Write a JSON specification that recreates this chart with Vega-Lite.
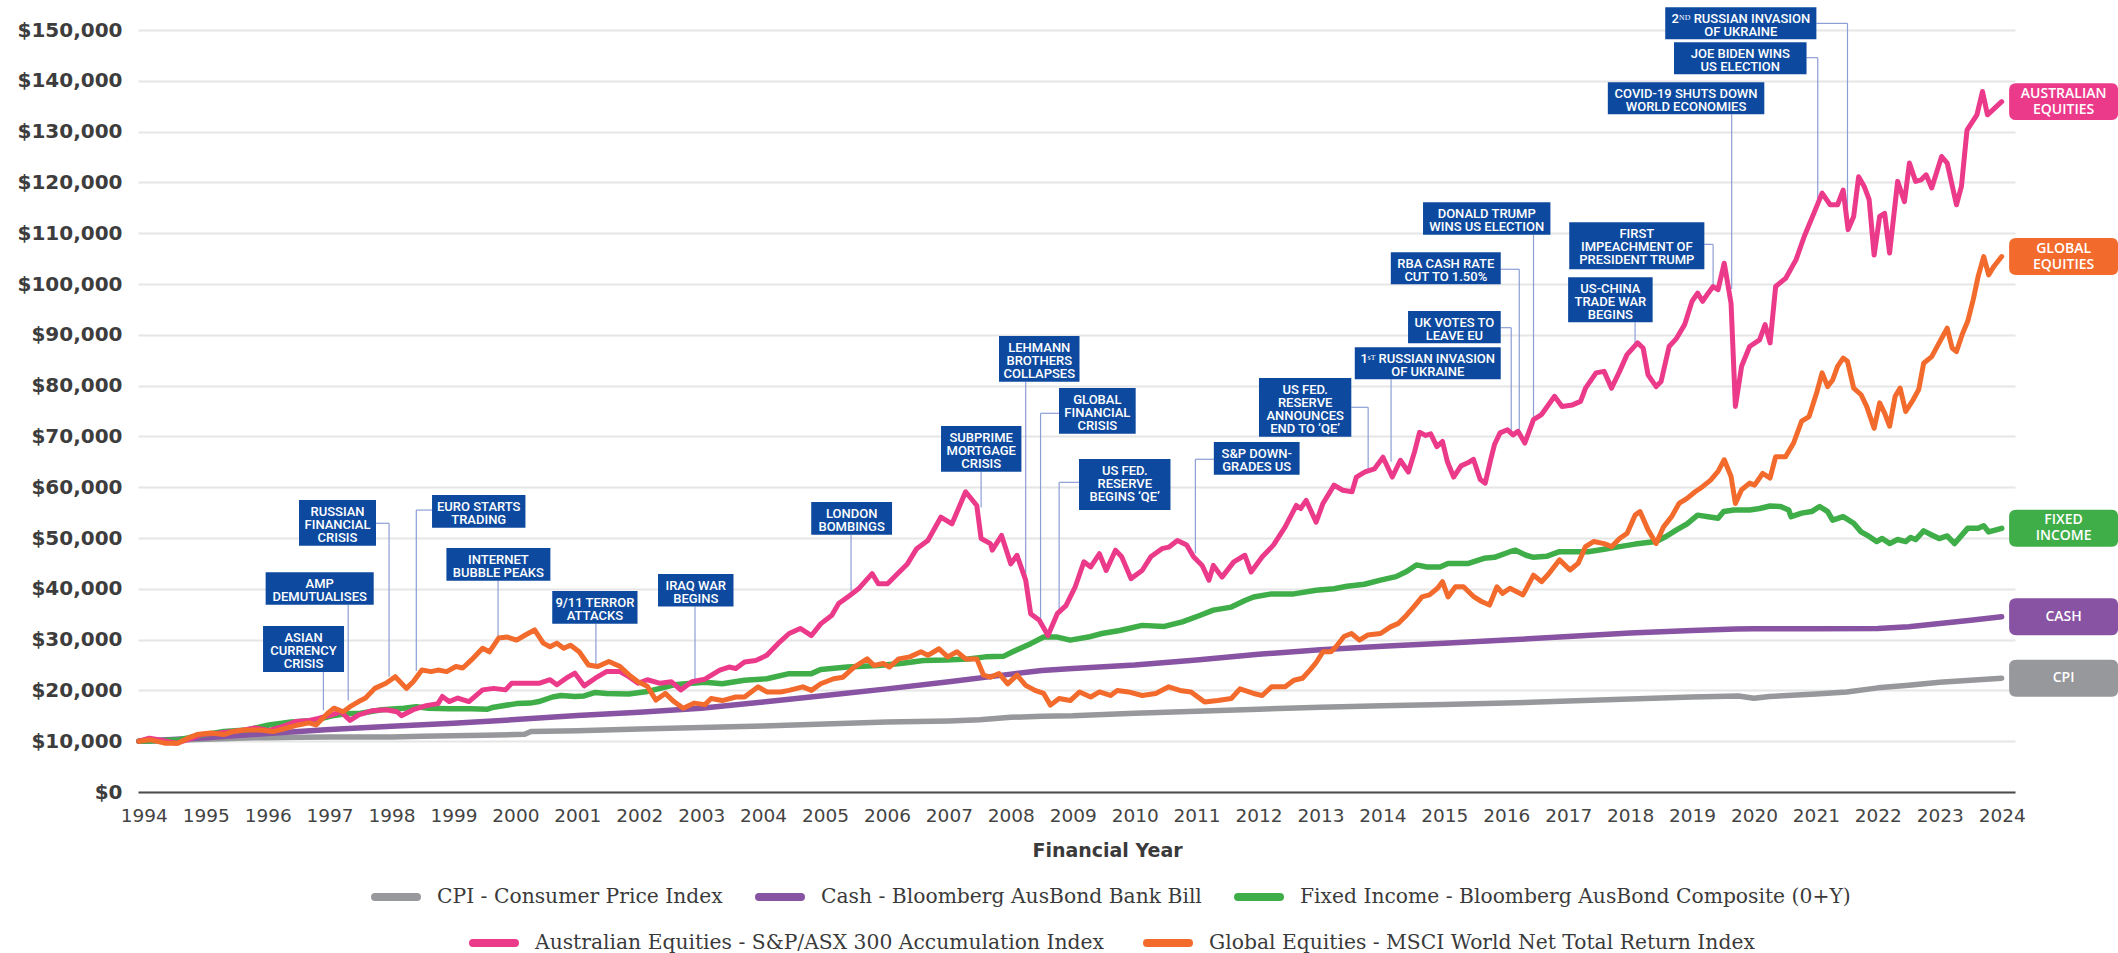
{
"$schema": "https://vega.github.io/schema/vega-lite/v6.json",
"width": 1877, "height": 762,
"autosize": {"type": "none"},
"padding": {"left": 138, "top": 30, "right": 103, "bottom": 161},
"background": "white",
"config": {"view": {"stroke": null}},
"datasets": {
"series": [
{"k":"cpi","t":1993.92,"v":10000},{"k":"cpi","t":1994.5,"v":10200},{"k":"cpi","t":1995.0,"v":10400},{"k":"cpi","t":1995.5,"v":10600},{"k":"cpi","t":1996.0,"v":10700},{"k":"cpi","t":1996.5,"v":10800},{"k":"cpi","t":1997.0,"v":10850},{"k":"cpi","t":1997.5,"v":10850},{"k":"cpi","t":1998.0,"v":10850},{"k":"cpi","t":1998.5,"v":10950},{"k":"cpi","t":1999.0,"v":11050},{"k":"cpi","t":1999.5,"v":11150},{"k":"cpi","t":2000.0,"v":11300},{"k":"cpi","t":2000.15,"v":11350},{"k":"cpi","t":2000.25,"v":11900},{"k":"cpi","t":2001.0,"v":12050},{"k":"cpi","t":2002.0,"v":12400},{"k":"cpi","t":2003.0,"v":12700},{"k":"cpi","t":2004.0,"v":13000},{"k":"cpi","t":2005.0,"v":13400},{"k":"cpi","t":2006.0,"v":13800},{"k":"cpi","t":2007.0,"v":14000},{"k":"cpi","t":2007.5,"v":14200},{"k":"cpi","t":2008.0,"v":14700},{"k":"cpi","t":2008.5,"v":14900},{"k":"cpi","t":2009.0,"v":15000},{"k":"cpi","t":2010.0,"v":15500},{"k":"cpi","t":2011.0,"v":15900},{"k":"cpi","t":2012.0,"v":16300},{"k":"cpi","t":2013.0,"v":16700},{"k":"cpi","t":2014.0,"v":17000},{"k":"cpi","t":2015.0,"v":17200},{"k":"cpi","t":2016.0,"v":17500},{"k":"cpi","t":2017.0,"v":17900},{"k":"cpi","t":2018.0,"v":18300},{"k":"cpi","t":2019.0,"v":18700},{"k":"cpi","t":2019.75,"v":18900},{"k":"cpi","t":2020.0,"v":18450},{"k":"cpi","t":2020.25,"v":18800},{"k":"cpi","t":2021.0,"v":19300},{"k":"cpi","t":2021.5,"v":19700},{"k":"cpi","t":2022.0,"v":20500},{"k":"cpi","t":2022.5,"v":21000},{"k":"cpi","t":2023.0,"v":21600},{"k":"cpi","t":2023.5,"v":22000},{"k":"cpi","t":2024.0,"v":22400},
{"k":"cash","t":1993.92,"v":10000},{"k":"cash","t":1995,"v":10700},{"k":"cash","t":1996,"v":11500},{"k":"cash","t":1997,"v":12300},{"k":"cash","t":1998,"v":12950},{"k":"cash","t":1999,"v":13550},{"k":"cash","t":2000,"v":14250},{"k":"cash","t":2001,"v":15050},{"k":"cash","t":2002,"v":15700},{"k":"cash","t":2003,"v":16500},{"k":"cash","t":2004,"v":17700},{"k":"cash","t":2005,"v":19000},{"k":"cash","t":2006,"v":20300},{"k":"cash","t":2007,"v":21700},{"k":"cash","t":2008,"v":23200},{"k":"cash","t":2008.5,"v":23900},{"k":"cash","t":2009,"v":24300},{"k":"cash","t":2010,"v":25000},{"k":"cash","t":2011,"v":26000},{"k":"cash","t":2012,"v":27100},{"k":"cash","t":2013,"v":28000},{"k":"cash","t":2014,"v":28700},{"k":"cash","t":2015,"v":29300},{"k":"cash","t":2016,"v":29900},{"k":"cash","t":2017,"v":30600},{"k":"cash","t":2018,"v":31300},{"k":"cash","t":2019,"v":31800},{"k":"cash","t":2019.7,"v":32100},{"k":"cash","t":2020,"v":32150},{"k":"cash","t":2021,"v":32150},{"k":"cash","t":2022,"v":32200},{"k":"cash","t":2022.5,"v":32550},{"k":"cash","t":2023,"v":33150},{"k":"cash","t":2023.5,"v":33800},{"k":"cash","t":2024,"v":34500},
{"k":"fixed","t":1993.92,"v":10000},{"k":"fixed","t":1994.2,"v":10100},{"k":"fixed","t":1994.57,"v":10300},{"k":"fixed","t":1994.93,"v":11200},{"k":"fixed","t":1995.29,"v":11900},{"k":"fixed","t":1995.66,"v":12200},{"k":"fixed","t":1996.02,"v":13200},{"k":"fixed","t":1996.38,"v":13800},{"k":"fixed","t":1996.75,"v":14100},{"k":"fixed","t":1997.04,"v":15000},{"k":"fixed","t":1997.26,"v":15400},{"k":"fixed","t":1997.5,"v":15500},{"k":"fixed","t":1997.84,"v":16200},{"k":"fixed","t":1998.2,"v":16500},{"k":"fixed","t":1998.4,"v":16800},{"k":"fixed","t":1998.6,"v":16500},{"k":"fixed","t":1998.93,"v":16400},{"k":"fixed","t":1999.29,"v":16400},{"k":"fixed","t":1999.55,"v":16300},{"k":"fixed","t":1999.65,"v":16700},{"k":"fixed","t":2000.02,"v":17400},{"k":"fixed","t":2000.24,"v":17500},{"k":"fixed","t":2000.38,"v":17800},{"k":"fixed","t":2000.6,"v":18700},{"k":"fixed","t":2000.74,"v":19000},{"k":"fixed","t":2000.96,"v":18800},{"k":"fixed","t":2001.11,"v":18900},{"k":"fixed","t":2001.29,"v":19600},{"k":"fixed","t":2001.47,"v":19400},{"k":"fixed","t":2001.83,"v":19300},{"k":"fixed","t":2002.13,"v":19800},{"k":"fixed","t":2002.34,"v":20400},{"k":"fixed","t":2002.56,"v":21100},{"k":"fixed","t":2002.85,"v":21400},{"k":"fixed","t":2003.06,"v":21600},{"k":"fixed","t":2003.34,"v":21300},{"k":"fixed","t":2003.7,"v":22000},{"k":"fixed","t":2004.06,"v":22300},{"k":"fixed","t":2004.42,"v":23300},{"k":"fixed","t":2004.78,"v":23300},{"k":"fixed","t":2004.93,"v":24100},{"k":"fixed","t":2005.36,"v":24600},{"k":"fixed","t":2005.86,"v":24900},{"k":"fixed","t":2006.22,"v":25300},{"k":"fixed","t":2006.59,"v":25900},{"k":"fixed","t":2006.95,"v":26000},{"k":"fixed","t":2007.31,"v":26200},{"k":"fixed","t":2007.59,"v":26600},{"k":"fixed","t":2007.88,"v":26700},{"k":"fixed","t":2008.03,"v":27600},{"k":"fixed","t":2008.32,"v":29200},{"k":"fixed","t":2008.53,"v":30500},{"k":"fixed","t":2008.75,"v":30500},{"k":"fixed","t":2008.96,"v":29900},{"k":"fixed","t":2009.25,"v":30500},{"k":"fixed","t":2009.47,"v":31200},{"k":"fixed","t":2009.76,"v":31800},{"k":"fixed","t":2010.12,"v":32800},{"k":"fixed","t":2010.48,"v":32600},{"k":"fixed","t":2010.77,"v":33500},{"k":"fixed","t":2011.06,"v":34800},{"k":"fixed","t":2011.27,"v":35800},{"k":"fixed","t":2011.56,"v":36400},{"k":"fixed","t":2011.78,"v":37700},{"k":"fixed","t":2011.92,"v":38400},{"k":"fixed","t":2012.21,"v":39000},{"k":"fixed","t":2012.57,"v":39000},{"k":"fixed","t":2012.93,"v":39700},{"k":"fixed","t":2013.22,"v":40000},{"k":"fixed","t":2013.43,"v":40500},{"k":"fixed","t":2013.71,"v":40900},{"k":"fixed","t":2013.97,"v":41700},{"k":"fixed","t":2014.22,"v":42400},{"k":"fixed","t":2014.39,"v":43400},{"k":"fixed","t":2014.55,"v":44700},{"k":"fixed","t":2014.72,"v":44300},{"k":"fixed","t":2014.93,"v":44300},{"k":"fixed","t":2015.06,"v":45000},{"k":"fixed","t":2015.39,"v":45000},{"k":"fixed","t":2015.64,"v":46000},{"k":"fixed","t":2015.81,"v":46200},{"k":"fixed","t":2016.06,"v":47300},{"k":"fixed","t":2016.15,"v":47600},{"k":"fixed","t":2016.32,"v":46600},{"k":"fixed","t":2016.44,"v":46200},{"k":"fixed","t":2016.65,"v":46400},{"k":"fixed","t":2016.86,"v":47300},{"k":"fixed","t":2017.07,"v":47300},{"k":"fixed","t":2017.32,"v":47300},{"k":"fixed","t":2017.58,"v":47800},{"k":"fixed","t":2017.83,"v":48300},{"k":"fixed","t":2018.08,"v":48800},{"k":"fixed","t":2018.42,"v":49300},{"k":"fixed","t":2018.58,"v":50300},{"k":"fixed","t":2018.75,"v":51600},{"k":"fixed","t":2018.92,"v":52800},{"k":"fixed","t":2019.09,"v":54500},{"k":"fixed","t":2019.26,"v":54200},{"k":"fixed","t":2019.42,"v":53900},{"k":"fixed","t":2019.51,"v":55200},{"k":"fixed","t":2019.68,"v":55500},{"k":"fixed","t":2019.93,"v":55500},{"k":"fixed","t":2020.09,"v":55800},{"k":"fixed","t":2020.26,"v":56300},{"k":"fixed","t":2020.43,"v":56200},{"k":"fixed","t":2020.56,"v":55500},{"k":"fixed","t":2020.6,"v":54200},{"k":"fixed","t":2020.77,"v":54900},{"k":"fixed","t":2020.93,"v":55200},{"k":"fixed","t":2021.06,"v":56200},{"k":"fixed","t":2021.19,"v":55200},{"k":"fixed","t":2021.27,"v":53500},{"k":"fixed","t":2021.44,"v":54200},{"k":"fixed","t":2021.61,"v":52900},{"k":"fixed","t":2021.73,"v":51200},{"k":"fixed","t":2021.86,"v":50300},{"k":"fixed","t":2021.98,"v":49300},{"k":"fixed","t":2022.07,"v":49900},{"k":"fixed","t":2022.19,"v":48900},{"k":"fixed","t":2022.32,"v":49700},{"k":"fixed","t":2022.45,"v":49300},{"k":"fixed","t":2022.53,"v":50100},{"k":"fixed","t":2022.61,"v":49700},{"k":"fixed","t":2022.74,"v":51400},{"k":"fixed","t":2022.87,"v":50600},{"k":"fixed","t":2022.99,"v":49900},{"k":"fixed","t":2023.12,"v":50400},{"k":"fixed","t":2023.24,"v":48900},{"k":"fixed","t":2023.45,"v":51900},{"k":"fixed","t":2023.62,"v":51900},{"k":"fixed","t":2023.71,"v":52400},{"k":"fixed","t":2023.79,"v":51200},{"k":"fixed","t":2024.0,"v":51900},
{"k":"aus","t":1993.92,"v":10000},{"k":"aus","t":1994.09,"v":10600},{"k":"aus","t":1994.28,"v":10200},{"k":"aus","t":1994.53,"v":9600},{"k":"aus","t":1994.71,"v":10300},{"k":"aus","t":1994.93,"v":11300},{"k":"aus","t":1995.22,"v":11600},{"k":"aus","t":1995.44,"v":11900},{"k":"aus","t":1995.62,"v":12200},{"k":"aus","t":1995.8,"v":12600},{"k":"aus","t":1996.02,"v":12100},{"k":"aus","t":1996.24,"v":12900},{"k":"aus","t":1996.46,"v":13900},{"k":"aus","t":1996.67,"v":14100},{"k":"aus","t":1996.82,"v":14500},{"k":"aus","t":1997.04,"v":15200},{"k":"aus","t":1997.18,"v":15800},{"k":"aus","t":1997.33,"v":14100},{"k":"aus","t":1997.47,"v":15200},{"k":"aus","t":1997.69,"v":16000},{"k":"aus","t":1997.91,"v":16200},{"k":"aus","t":1998.09,"v":15800},{"k":"aus","t":1998.16,"v":15000},{"k":"aus","t":1998.35,"v":16200},{"k":"aus","t":1998.56,"v":17000},{"k":"aus","t":1998.75,"v":17400},{"k":"aus","t":1998.82,"v":18800},{"k":"aus","t":1998.93,"v":17800},{"k":"aus","t":1999.07,"v":18500},{"k":"aus","t":1999.25,"v":17800},{"k":"aus","t":1999.47,"v":20100},{"k":"aus","t":1999.65,"v":20400},{"k":"aus","t":1999.84,"v":20100},{"k":"aus","t":1999.94,"v":21400},{"k":"aus","t":2000.16,"v":21400},{"k":"aus","t":2000.38,"v":21400},{"k":"aus","t":2000.56,"v":22100},{"k":"aus","t":2000.67,"v":21100},{"k":"aus","t":2000.82,"v":22400},{"k":"aus","t":2000.96,"v":23400},{"k":"aus","t":2001.11,"v":20900},{"k":"aus","t":2001.29,"v":22400},{"k":"aus","t":2001.47,"v":23700},{"k":"aus","t":2001.69,"v":23700},{"k":"aus","t":2001.83,"v":22700},{"k":"aus","t":2001.98,"v":21400},{"k":"aus","t":2002.13,"v":22100},{"k":"aus","t":2002.34,"v":21400},{"k":"aus","t":2002.52,"v":21700},{"k":"aus","t":2002.67,"v":20100},{"k":"aus","t":2002.85,"v":21700},{"k":"aus","t":2003.06,"v":22200},{"k":"aus","t":2003.3,"v":24000},{"k":"aus","t":2003.45,"v":24600},{"k":"aus","t":2003.56,"v":24300},{"k":"aus","t":2003.7,"v":25600},{"k":"aus","t":2003.88,"v":25900},{"k":"aus","t":2004.06,"v":26900},{"k":"aus","t":2004.24,"v":29200},{"k":"aus","t":2004.42,"v":31200},{"k":"aus","t":2004.6,"v":32200},{"k":"aus","t":2004.78,"v":30800},{"k":"aus","t":2004.93,"v":33100},{"k":"aus","t":2005.11,"v":34800},{"k":"aus","t":2005.22,"v":37100},{"k":"aus","t":2005.4,"v":38700},{"k":"aus","t":2005.54,"v":40000},{"k":"aus","t":2005.76,"v":43000},{"k":"aus","t":2005.86,"v":41000},{"k":"aus","t":2006.01,"v":41000},{"k":"aus","t":2006.15,"v":42700},{"k":"aus","t":2006.33,"v":44900},{"k":"aus","t":2006.48,"v":47900},{"k":"aus","t":2006.66,"v":49500},{"k":"aus","t":2006.87,"v":54100},{"k":"aus","t":2007.05,"v":52800},{"k":"aus","t":2007.27,"v":59100},{"k":"aus","t":2007.45,"v":56400},{"k":"aus","t":2007.52,"v":49900},{"k":"aus","t":2007.67,"v":48900},{"k":"aus","t":2007.7,"v":47600},{"k":"aus","t":2007.85,"v":50500},{"k":"aus","t":2008.0,"v":44900},{"k":"aus","t":2008.1,"v":46600},{"k":"aus","t":2008.24,"v":41700},{"k":"aus","t":2008.32,"v":35100},{"k":"aus","t":2008.46,"v":33800},{"k":"aus","t":2008.6,"v":30800},{"k":"aus","t":2008.75,"v":35100},{"k":"aus","t":2008.89,"v":36700},{"k":"aus","t":2009.04,"v":40400},{"k":"aus","t":2009.18,"v":45300},{"k":"aus","t":2009.29,"v":44300},{"k":"aus","t":2009.43,"v":46900},{"k":"aus","t":2009.54,"v":43600},{"k":"aus","t":2009.69,"v":47600},{"k":"aus","t":2009.79,"v":46300},{"k":"aus","t":2009.94,"v":42000},{"k":"aus","t":2010.12,"v":43600},{"k":"aus","t":2010.26,"v":46300},{"k":"aus","t":2010.44,"v":47900},{"k":"aus","t":2010.55,"v":48200},{"k":"aus","t":2010.69,"v":49500},{"k":"aus","t":2010.84,"v":48600},{"k":"aus","t":2010.95,"v":46300},{"k":"aus","t":2011.09,"v":44600},{"k":"aus","t":2011.2,"v":41700},{"k":"aus","t":2011.27,"v":44600},{"k":"aus","t":2011.41,"v":42300},{"k":"aus","t":2011.6,"v":45300},{"k":"aus","t":2011.78,"v":46600},{"k":"aus","t":2011.88,"v":43300},{"k":"aus","t":2012.06,"v":46300},{"k":"aus","t":2012.24,"v":48600},{"k":"aus","t":2012.43,"v":52200},{"k":"aus","t":2012.61,"v":56400},{"k":"aus","t":2012.68,"v":55800},{"k":"aus","t":2012.77,"v":57400},{"k":"aus","t":2012.93,"v":53100},{"k":"aus","t":2013.04,"v":56800},{"k":"aus","t":2013.22,"v":60400},{"k":"aus","t":2013.36,"v":59400},{"k":"aus","t":2013.51,"v":59100},{"k":"aus","t":2013.58,"v":62000},{"k":"aus","t":2013.72,"v":63000},{"k":"aus","t":2013.87,"v":63600},{"k":"aus","t":2014.01,"v":65900},{"k":"aus","t":2014.16,"v":62000},{"k":"aus","t":2014.29,"v":65300},{"k":"aus","t":2014.42,"v":63000},{"k":"aus","t":2014.52,"v":67000},{"k":"aus","t":2014.6,"v":70800},{"k":"aus","t":2014.7,"v":70200},{"k":"aus","t":2014.78,"v":70500},{"k":"aus","t":2014.88,"v":68000},{"k":"aus","t":2014.97,"v":69000},{"k":"aus","t":2015.05,"v":65000},{"k":"aus","t":2015.15,"v":62000},{"k":"aus","t":2015.27,"v":64200},{"k":"aus","t":2015.38,"v":64800},{"k":"aus","t":2015.47,"v":65500},{"k":"aus","t":2015.58,"v":61500},{"k":"aus","t":2015.66,"v":60800},{"k":"aus","t":2015.75,"v":65500},{"k":"aus","t":2015.81,"v":68400},{"k":"aus","t":2015.9,"v":70700},{"k":"aus","t":2016.02,"v":71300},{"k":"aus","t":2016.11,"v":70300},{"k":"aus","t":2016.19,"v":71000},{"k":"aus","t":2016.3,"v":68700},{"k":"aus","t":2016.44,"v":73300},{"k":"aus","t":2016.57,"v":74300},{"k":"aus","t":2016.78,"v":77900},{"k":"aus","t":2016.9,"v":75900},{"k":"aus","t":2017.07,"v":76200},{"k":"aus","t":2017.2,"v":76900},{"k":"aus","t":2017.28,"v":79500},{"k":"aus","t":2017.45,"v":82500},{"k":"aus","t":2017.58,"v":82800},{"k":"aus","t":2017.7,"v":79500},{"k":"aus","t":2017.83,"v":82800},{"k":"aus","t":2017.95,"v":86100},{"k":"aus","t":2018.12,"v":88400},{"k":"aus","t":2018.21,"v":87400},{"k":"aus","t":2018.29,"v":82100},{"k":"aus","t":2018.42,"v":79800},{"k":"aus","t":2018.5,"v":80800},{"k":"aus","t":2018.63,"v":87700},{"k":"aus","t":2018.75,"v":89300},{"k":"aus","t":2018.88,"v":92000},{"k":"aus","t":2019.0,"v":96600},{"k":"aus","t":2019.09,"v":98200},{"k":"aus","t":2019.17,"v":96600},{"k":"aus","t":2019.26,"v":98200},{"k":"aus","t":2019.34,"v":99500},{"k":"aus","t":2019.42,"v":98900},{"k":"aus","t":2019.52,"v":104100},{"k":"aus","t":2019.63,"v":96200},{"k":"aus","t":2019.7,"v":75900},{"k":"aus","t":2019.8,"v":83800},{"k":"aus","t":2019.93,"v":87700},{"k":"aus","t":2020.09,"v":89000},{"k":"aus","t":2020.18,"v":92000},{"k":"aus","t":2020.26,"v":88400},{"k":"aus","t":2020.35,"v":99500},{"k":"aus","t":2020.51,"v":101100},{"k":"aus","t":2020.68,"v":104800},{"k":"aus","t":2020.81,"v":109300},{"k":"aus","t":2020.98,"v":114300},{"k":"aus","t":2021.1,"v":117900},{"k":"aus","t":2021.23,"v":115600},{"k":"aus","t":2021.35,"v":115600},{"k":"aus","t":2021.44,"v":118500},{"k":"aus","t":2021.52,"v":110700},{"k":"aus","t":2021.61,"v":113300},{"k":"aus","t":2021.69,"v":121100},{"k":"aus","t":2021.78,"v":119200},{"k":"aus","t":2021.86,"v":116600},{"k":"aus","t":2021.94,"v":105700},{"k":"aus","t":2022.03,"v":113300},{"k":"aus","t":2022.11,"v":113900},{"k":"aus","t":2022.19,"v":106100},{"k":"aus","t":2022.32,"v":120200},{"k":"aus","t":2022.43,"v":116200},{"k":"aus","t":2022.51,"v":123800},{"k":"aus","t":2022.61,"v":120200},{"k":"aus","t":2022.7,"v":120500},{"k":"aus","t":2022.78,"v":121500},{"k":"aus","t":2022.87,"v":118900},{"k":"aus","t":2023.03,"v":125100},{"k":"aus","t":2023.12,"v":123800},{"k":"aus","t":2023.27,"v":115600},{"k":"aus","t":2023.35,"v":119200},{"k":"aus","t":2023.44,"v":130300},{"k":"aus","t":2023.6,"v":133300},{"k":"aus","t":2023.69,"v":137900},{"k":"aus","t":2023.77,"v":133300},{"k":"aus","t":2024.0,"v":135900},
{"k":"glob","t":1993.92,"v":10000},{"k":"glob","t":1994.1,"v":10300},{"k":"glob","t":1994.35,"v":9600},{"k":"glob","t":1994.55,"v":9600},{"k":"glob","t":1994.71,"v":10600},{"k":"glob","t":1994.86,"v":11300},{"k":"glob","t":1995.08,"v":11600},{"k":"glob","t":1995.29,"v":11300},{"k":"glob","t":1995.44,"v":11900},{"k":"glob","t":1995.62,"v":12200},{"k":"glob","t":1995.87,"v":12200},{"k":"glob","t":1996.09,"v":11900},{"k":"glob","t":1996.31,"v":12600},{"k":"glob","t":1996.49,"v":13200},{"k":"glob","t":1996.67,"v":13600},{"k":"glob","t":1996.78,"v":13200},{"k":"glob","t":1996.97,"v":15500},{"k":"glob","t":1997.07,"v":16500},{"k":"glob","t":1997.22,"v":15800},{"k":"glob","t":1997.33,"v":16800},{"k":"glob","t":1997.47,"v":17800},{"k":"glob","t":1997.58,"v":18500},{"k":"glob","t":1997.73,"v":20400},{"k":"glob","t":1997.91,"v":21400},{"k":"glob","t":1998.06,"v":22700},{"k":"glob","t":1998.24,"v":20400},{"k":"glob","t":1998.35,"v":21700},{"k":"glob","t":1998.49,"v":24000},{"k":"glob","t":1998.64,"v":23700},{"k":"glob","t":1998.75,"v":24000},{"k":"glob","t":1998.89,"v":23700},{"k":"glob","t":1999.04,"v":24700},{"k":"glob","t":1999.15,"v":24400},{"k":"glob","t":1999.29,"v":26000},{"k":"glob","t":1999.47,"v":28300},{"k":"glob","t":1999.58,"v":27600},{"k":"glob","t":1999.73,"v":30300},{"k":"glob","t":1999.87,"v":30500},{"k":"glob","t":2000.02,"v":29900},{"k":"glob","t":2000.16,"v":30900},{"k":"glob","t":2000.31,"v":31900},{"k":"glob","t":2000.45,"v":29300},{"k":"glob","t":2000.56,"v":28600},{"k":"glob","t":2000.67,"v":29300},{"k":"glob","t":2000.78,"v":28300},{"k":"glob","t":2000.89,"v":28900},{"k":"glob","t":2001.03,"v":27600},{"k":"glob","t":2001.18,"v":25000},{"k":"glob","t":2001.33,"v":24700},{"k":"glob","t":2001.51,"v":25700},{"k":"glob","t":2001.69,"v":24700},{"k":"glob","t":2001.83,"v":23100},{"k":"glob","t":2001.98,"v":21700},{"k":"glob","t":2002.13,"v":20800},{"k":"glob","t":2002.27,"v":18100},{"k":"glob","t":2002.42,"v":19400},{"k":"glob","t":2002.56,"v":17800},{"k":"glob","t":2002.71,"v":16500},{"k":"glob","t":2002.89,"v":17500},{"k":"glob","t":2003.06,"v":17200},{"k":"glob","t":2003.16,"v":18400},{"k":"glob","t":2003.34,"v":18000},{"k":"glob","t":2003.56,"v":18700},{"k":"glob","t":2003.7,"v":18700},{"k":"glob","t":2003.92,"v":20700},{"k":"glob","t":2004.06,"v":19700},{"k":"glob","t":2004.28,"v":19700},{"k":"glob","t":2004.42,"v":20000},{"k":"glob","t":2004.64,"v":20700},{"k":"glob","t":2004.78,"v":20000},{"k":"glob","t":2004.93,"v":21300},{"k":"glob","t":2005.14,"v":22300},{"k":"glob","t":2005.29,"v":22600},{"k":"glob","t":2005.47,"v":24600},{"k":"glob","t":2005.68,"v":26200},{"k":"glob","t":2005.79,"v":24900},{"k":"glob","t":2005.94,"v":25300},{"k":"glob","t":2006.04,"v":24600},{"k":"glob","t":2006.19,"v":26200},{"k":"glob","t":2006.37,"v":26600},{"k":"glob","t":2006.55,"v":27600},{"k":"glob","t":2006.66,"v":26900},{"k":"glob","t":2006.84,"v":28200},{"k":"glob","t":2006.98,"v":26600},{"k":"glob","t":2007.13,"v":27600},{"k":"glob","t":2007.27,"v":26200},{"k":"glob","t":2007.45,"v":26200},{"k":"glob","t":2007.56,"v":23000},{"k":"glob","t":2007.67,"v":22600},{"k":"glob","t":2007.81,"v":23300},{"k":"glob","t":2007.95,"v":21300},{"k":"glob","t":2008.1,"v":23000},{"k":"glob","t":2008.24,"v":21000},{"k":"glob","t":2008.39,"v":20000},{"k":"glob","t":2008.53,"v":19400},{"k":"glob","t":2008.64,"v":17100},{"k":"glob","t":2008.78,"v":18400},{"k":"glob","t":2008.96,"v":18000},{"k":"glob","t":2009.11,"v":19700},{"k":"glob","t":2009.29,"v":18700},{"k":"glob","t":2009.43,"v":19700},{"k":"glob","t":2009.61,"v":19000},{"k":"glob","t":2009.72,"v":20000},{"k":"glob","t":2009.9,"v":19700},{"k":"glob","t":2010.12,"v":19000},{"k":"glob","t":2010.34,"v":19400},{"k":"glob","t":2010.55,"v":20700},{"k":"glob","t":2010.73,"v":20000},{"k":"glob","t":2010.91,"v":19700},{"k":"glob","t":2011.13,"v":17700},{"k":"glob","t":2011.34,"v":18000},{"k":"glob","t":2011.56,"v":18400},{"k":"glob","t":2011.7,"v":20300},{"k":"glob","t":2011.92,"v":19400},{"k":"glob","t":2012.06,"v":19000},{"k":"glob","t":2012.21,"v":20700},{"k":"glob","t":2012.43,"v":20700},{"k":"glob","t":2012.57,"v":22000},{"k":"glob","t":2012.71,"v":22400},{"k":"glob","t":2012.83,"v":24000},{"k":"glob","t":2012.92,"v":25300},{"k":"glob","t":2013.04,"v":27600},{"k":"glob","t":2013.17,"v":27600},{"k":"glob","t":2013.25,"v":28600},{"k":"glob","t":2013.38,"v":30600},{"k":"glob","t":2013.5,"v":31200},{"k":"glob","t":2013.63,"v":29900},{"k":"glob","t":2013.76,"v":30900},{"k":"glob","t":2013.97,"v":31200},{"k":"glob","t":2014.13,"v":32500},{"k":"glob","t":2014.26,"v":33200},{"k":"glob","t":2014.39,"v":34800},{"k":"glob","t":2014.51,"v":36500},{"k":"glob","t":2014.64,"v":38400},{"k":"glob","t":2014.76,"v":38800},{"k":"glob","t":2014.89,"v":40100},{"k":"glob","t":2014.97,"v":41400},{"k":"glob","t":2015.06,"v":38400},{"k":"glob","t":2015.18,"v":40400},{"k":"glob","t":2015.31,"v":40400},{"k":"glob","t":2015.48,"v":38400},{"k":"glob","t":2015.6,"v":37500},{"k":"glob","t":2015.73,"v":36800},{"k":"glob","t":2015.85,"v":40400},{"k":"glob","t":2015.94,"v":39100},{"k":"glob","t":2016.06,"v":40100},{"k":"glob","t":2016.27,"v":38800},{"k":"glob","t":2016.44,"v":42700},{"k":"glob","t":2016.57,"v":41400},{"k":"glob","t":2016.69,"v":43000},{"k":"glob","t":2016.86,"v":45700},{"k":"glob","t":2017.03,"v":43700},{"k":"glob","t":2017.16,"v":45000},{"k":"glob","t":2017.28,"v":48300},{"k":"glob","t":2017.41,"v":49300},{"k":"glob","t":2017.58,"v":48900},{"k":"glob","t":2017.7,"v":48300},{"k":"glob","t":2017.83,"v":49900},{"k":"glob","t":2017.95,"v":50900},{"k":"glob","t":2018.08,"v":54500},{"k":"glob","t":2018.16,"v":55200},{"k":"glob","t":2018.29,"v":51600},{"k":"glob","t":2018.42,"v":48900},{"k":"glob","t":2018.54,"v":52200},{"k":"glob","t":2018.67,"v":54200},{"k":"glob","t":2018.79,"v":56800},{"k":"glob","t":2018.92,"v":57800},{"k":"glob","t":2019.05,"v":59100},{"k":"glob","t":2019.17,"v":60100},{"k":"glob","t":2019.3,"v":61400},{"k":"glob","t":2019.42,"v":63100},{"k":"glob","t":2019.52,"v":65400},{"k":"glob","t":2019.63,"v":62100},{"k":"glob","t":2019.7,"v":56800},{"k":"glob","t":2019.8,"v":59500},{"k":"glob","t":2019.93,"v":60800},{"k":"glob","t":2020.01,"v":60400},{"k":"glob","t":2020.14,"v":62700},{"k":"glob","t":2020.26,"v":61800},{"k":"glob","t":2020.35,"v":66000},{"k":"glob","t":2020.51,"v":66000},{"k":"glob","t":2020.64,"v":68700},{"k":"glob","t":2020.77,"v":73000},{"k":"glob","t":2020.89,"v":73900},{"k":"glob","t":2021.02,"v":78900},{"k":"glob","t":2021.1,"v":82500},{"k":"glob","t":2021.19,"v":79800},{"k":"glob","t":2021.27,"v":81100},{"k":"glob","t":2021.35,"v":83800},{"k":"glob","t":2021.44,"v":85400},{"k":"glob","t":2021.51,"v":84800},{"k":"glob","t":2021.61,"v":79500},{"k":"glob","t":2021.73,"v":78200},{"k":"glob","t":2021.82,"v":75900},{"k":"glob","t":2021.94,"v":71600},{"k":"glob","t":2022.03,"v":76600},{"k":"glob","t":2022.11,"v":74600},{"k":"glob","t":2022.19,"v":72000},{"k":"glob","t":2022.28,"v":77900},{"k":"glob","t":2022.36,"v":79500},{"k":"glob","t":2022.45,"v":74900},{"k":"glob","t":2022.57,"v":77200},{"k":"glob","t":2022.66,"v":79200},{"k":"glob","t":2022.74,"v":84400},{"k":"glob","t":2022.87,"v":85700},{"k":"glob","t":2022.99,"v":88400},{"k":"glob","t":2023.12,"v":91300},{"k":"glob","t":2023.2,"v":87400},{"k":"glob","t":2023.27,"v":86700},{"k":"glob","t":2023.37,"v":90300},{"k":"glob","t":2023.45,"v":92600},{"k":"glob","t":2023.54,"v":96900},{"k":"glob","t":2023.62,"v":101500},{"k":"glob","t":2023.71,"v":105400},{"k":"glob","t":2023.79,"v":101800},{"k":"glob","t":2023.87,"v":103400},{"k":"glob","t":2024.0,"v":105400}
],
"notes": [
{"lab":"ASIAN|CURRENCY|CRISIS","t1":1995.925,"t2":1997.233,"v1":32680,"v2":23620,"tc":1996.90,"va":23620,"te":1996.90,"ve":16100},
{"lab":"AMP|DEMUTUALISES","t1":1995.967,"t2":1997.712,"v1":43250,"v2":36870,"tc":1997.30,"va":36870,"te":1997.30,"ve":18000},
{"lab":"RUSSIAN|FINANCIAL|CRISIS","t1":1996.506,"t2":1997.749,"v1":57480,"v2":48480,"tc":1997.96,"va":52900,"te":1997.749,"ve":22700},
{"lab":"EURO STARTS|TRADING","t1":1998.654,"t2":2000.162,"v1":58460,"v2":52030,"tc":1998.40,"va":55500,"te":1998.654,"ve":23800},
{"lab":"INTERNET|BUBBLE PEAKS","t1":1998.886,"t2":2000.565,"v1":48030,"v2":41590,"tc":1999.72,"va":41590,"te":1999.72,"ve":30500},
{"lab":"9/11 TERROR|ATTACKS","t1":2000.595,"t2":2001.972,"v1":39570,"v2":33130,"tc":2001.30,"va":33130,"te":2001.30,"ve":25200},
{"lab":"IRAQ WAR|BEGINS","t1":2002.303,"t2":2003.522,"v1":42910,"v2":36520,"tc":2002.90,"va":36520,"te":2002.90,"ve":22000},
{"lab":"LONDON|BOMBINGS","t1":2004.777,"t2":2006.082,"v1":57090,"v2":50650,"tc":2005.42,"va":50650,"te":2005.42,"ve":39500},
{"lab":"SUBPRIME|MORTGAGE|CRISIS","t1":2006.873,"t2":2008.171,"v1":72050,"v2":63050,"tc":2007.52,"va":63050,"te":2007.52,"ve":56000},
{"lab":"LEHMANN|BROTHERS|COLLAPSES","t1":2007.809,"t2":2009.109,"v1":89770,"v2":80770,"tc":2008.24,"va":80770,"te":2008.24,"ve":41700},
{"lab":"GLOBAL|FINANCIAL|CRISIS","t1":2008.778,"t2":2010.016,"v1":79530,"v2":70530,"tc":2008.48,"va":74550,"te":2008.778,"ve":33500},
{"lab":"US FED.|RESERVE|BEGINS ‘QE’","t1":2009.101,"t2":2010.578,"v1":65550,"v2":55510,"tc":2008.78,"va":60960,"te":2009.101,"ve":35500},
{"lab":"S&P DOWN-|GRADES US","t1":2011.278,"t2":2012.663,"v1":68900,"v2":62460,"tc":2010.98,"va":65500,"te":2011.278,"ve":47000},
{"lab":"US FED.|RESERVE|ANNOUNCES|END TO ‘QE’","t1":2012.007,"t2":2013.498,"v1":81500,"v2":69940,"tc":2013.77,"va":75730,"te":2013.498,"ve":63500},
{"lab":"1ˢᵀ RUSSIAN INVASION|OF UKRAINE","t1":2013.554,"t2":2015.911,"v1":87540,"v2":81240,"tc":2014.14,"va":81240,"te":2014.14,"ve":65000},
{"lab":"UK VOTES TO|LEAVE EU","t1":2014.414,"t2":2015.911,"v1":94690,"v2":88330,"tc":2016.08,"va":91400,"te":2015.911,"ve":70800},
{"lab":"RBA CASH RATE|CUT TO 1.50%","t1":2014.136,"t2":2015.911,"v1":106240,"v2":99940,"tc":2016.21,"va":102900,"te":2015.911,"ve":71000},
{"lab":"DONALD TRUMP|WINS US ELECTION","t1":2014.656,"t2":2016.713,"v1":116080,"v2":109700,"tc":2016.44,"va":109700,"te":2016.44,"ve":73300},
{"lab":"FIRST|IMPEACHMENT OF|PRESIDENT TRUMP","t1":2017.017,"t2":2019.199,"v1":112150,"v2":102890,"tc":2019.34,"va":107800,"te":2019.199,"ve":99500},
{"lab":"US-CHINA|TRADE WAR|BEGINS","t1":2016.999,"t2":2018.364,"v1":101330,"v2":92460,"tc":2018.08,"va":92460,"te":2018.08,"ve":88400},
{"lab":"COVID-19 SHUTS DOWN|WORLD ECONOMIES","t1":2017.64,"t2":2020.167,"v1":139700,"v2":133400,"tc":2019.64,"va":133400,"te":2019.64,"ve":99000},
{"lab":"JOE BIDEN WINS|US ELECTION","t1":2018.709,"t2":2020.849,"v1":147580,"v2":141280,"tc":2021.03,"va":144550,"te":2020.849,"ve":116000},
{"lab":"2ᴺᴰ RUSSIAN INVASION|OF UKRAINE","t1":2018.567,"t2":2021.008,"v1":154470,"v2":148170,"tc":2021.51,"va":151300,"te":2021.008,"ve":111000}
],
"tags": [
{"k":"aus","lab":"AUSTRALIAN|EQUITIES"},{"k":"glob","lab":"GLOBAL|EQUITIES"},{"k":"fixed","lab":"FIXED|INCOME"},{"k":"cash","lab":"CASH"},{"k":"cpi","lab":"CPI"}
]
},
"layer": [
{
"data": {"name": "notes"},
"mark": {"type": "rule", "color": "#8d9ed6", "strokeWidth": 1.2},
"encoding": {
"x": {"field": "tc", "type": "quantitative", "scale": {"domain": [1993.906, 2024.215], "nice": false, "zero": false},
"axis": {"values": [1994,1995,1996,1997,1998,1999,2000,2001,2002,2003,2004,2005,2006,2007,2008,2009,2010,2011,2012,2013,2014,2015,2016,2017,2018,2019,2020,2021,2022,2023,2024], "format": "d", "grid": false, "ticks": false, "domainColor": "#4d4d4d", "domainWidth": 2, "labelFont": "DejaVu Sans", "labelFontSize": 18.5, "labelColor": "#444444", "labelPadding": 14, "labelOverlap": false, "labelFlush": false, "title": "Financial Year", "titleFont": "DejaVu Sans", "titleFontSize": 19, "titleFontWeight": "bold", "titleColor": "#3a3a3a", "titleX": 969, "titleY": 58, "titleBaseline": "middle", "titleAlign": "center"}},
"y": {"field": "va", "type": "quantitative", "scale": {"domain": [0, 150000], "nice": false},
"axis": {"values": [0,10000,20000,30000,40000,50000,60000,70000,80000,90000,100000,110000,120000,130000,140000,150000], "format": "$,d", "grid": true, "gridColor": "#e6e6e6", "gridWidth": 2, "domain": false, "ticks": false, "labelFont": "DejaVu Sans", "labelFontSize": 20, "labelFontWeight": "bold", "labelColor": "#3d3d3d", "labelPadding": 16, "title": null}},
"y2": {"field": "ve"}
}
},
{
"data": {"name": "notes"},
"mark": {"type": "rule", "color": "#8d9ed6", "strokeWidth": 1.2},
"encoding": {
"x": {"field": "te", "type": "quantitative", "scale": {"domain": [1993.906, 2024.215], "nice": false, "zero": false},
"axis": {"values": [1994,1995,1996,1997,1998,1999,2000,2001,2002,2003,2004,2005,2006,2007,2008,2009,2010,2011,2012,2013,2014,2015,2016,2017,2018,2019,2020,2021,2022,2023,2024], "format": "d", "grid": false, "ticks": false, "domainColor": "#4d4d4d", "domainWidth": 2, "labelFont": "DejaVu Sans", "labelFontSize": 18.5, "labelColor": "#444444", "labelPadding": 14, "labelOverlap": false, "labelFlush": false, "title": "Financial Year", "titleFont": "DejaVu Sans", "titleFontSize": 19, "titleFontWeight": "bold", "titleColor": "#3a3a3a", "titleX": 969, "titleY": 58, "titleBaseline": "middle", "titleAlign": "center"}},
"x2": {"field": "tc"},
"y": {"field": "va", "type": "quantitative", "scale": {"domain": [0, 150000], "nice": false},
"axis": {"values": [0,10000,20000,30000,40000,50000,60000,70000,80000,90000,100000,110000,120000,130000,140000,150000], "format": "$,d", "grid": true, "gridColor": "#e6e6e6", "gridWidth": 2, "domain": false, "ticks": false, "labelFont": "DejaVu Sans", "labelFontSize": 20, "labelFontWeight": "bold", "labelColor": "#3d3d3d", "labelPadding": 16, "title": null}}
}
},
{
"data": {"name": "series"},
"transform": [{"filter": {"field": "k", "oneOf": ["cpi", "cash", "fixed"]}}],
"mark": {"type": "line", "strokeWidth": 5.5, "strokeCap": "round", "strokeJoin": "round"},
"encoding": {
"x": {"field": "t", "type": "quantitative", "scale": {"domain": [1993.906, 2024.215], "nice": false, "zero": false},
"axis": {"values": [1994,1995,1996,1997,1998,1999,2000,2001,2002,2003,2004,2005,2006,2007,2008,2009,2010,2011,2012,2013,2014,2015,2016,2017,2018,2019,2020,2021,2022,2023,2024], "format": "d", "grid": false, "ticks": false, "domainColor": "#4d4d4d", "domainWidth": 2, "labelFont": "DejaVu Sans", "labelFontSize": 18.5, "labelColor": "#444444", "labelPadding": 14, "labelOverlap": false, "labelFlush": false, "title": "Financial Year", "titleFont": "DejaVu Sans", "titleFontSize": 19, "titleFontWeight": "bold", "titleColor": "#3a3a3a", "titleX": 969, "titleY": 58, "titleBaseline": "middle", "titleAlign": "center"}},
"y": {"field": "v", "type": "quantitative", "scale": {"domain": [0, 150000], "nice": false},
"axis": {"values": [0,10000,20000,30000,40000,50000,60000,70000,80000,90000,100000,110000,120000,130000,140000,150000], "format": "$,d", "grid": true, "gridColor": "#e6e6e6", "gridWidth": 2, "domain": false, "ticks": false, "labelFont": "DejaVu Sans", "labelFontSize": 20, "labelFontWeight": "bold", "labelColor": "#3d3d3d", "labelPadding": 16, "title": null}},
"color": {"field": "k", "type": "nominal", "scale": {"domain": ["cpi", "cash", "fixed"], "range": ["#97989b", "#8753a2", "#3fae49"]},
"legend": {"orient": "none", "legendX": 233, "legendY": 842, "direction": "horizontal", "title": null, "padding": 0, "symbolType": "stroke", "symbolStrokeWidth": 8, "symbolSize": 1764, "labelFont": "DejaVu Serif", "labelFontSize": 20.3, "labelColor": "#3a3a3a", "labelLimit": 1000, "labelOffset": 16, "columnPadding": 20,
"labelExpr": "datum.label == 'cpi' ? 'CPI - Consumer Price Index' : datum.label == 'cash' ? 'Cash - Bloomberg AusBond Bank Bill' : 'Fixed Income - Bloomberg AusBond Composite (0+Y)'",
"encode": {"symbols": {"update": {"strokeCap": {"value": "round"}, "strokeWidth": {"value": 8}}}}}}
}
},
{
"data": {"name": "series"},
"transform": [{"filter": {"field": "k", "oneOf": ["aus", "glob"]}}],
"mark": {"type": "line", "strokeWidth": 5, "strokeCap": "round", "strokeJoin": "round"},
"encoding": {
"x": {"field": "t", "type": "quantitative", "scale": {"domain": [1993.906, 2024.215], "nice": false, "zero": false},
"axis": {"values": [1994,1995,1996,1997,1998,1999,2000,2001,2002,2003,2004,2005,2006,2007,2008,2009,2010,2011,2012,2013,2014,2015,2016,2017,2018,2019,2020,2021,2022,2023,2024], "format": "d", "grid": false, "ticks": false, "domainColor": "#4d4d4d", "domainWidth": 2, "labelFont": "DejaVu Sans", "labelFontSize": 18.5, "labelColor": "#444444", "labelPadding": 14, "labelOverlap": false, "labelFlush": false, "title": "Financial Year", "titleFont": "DejaVu Sans", "titleFontSize": 19, "titleFontWeight": "bold", "titleColor": "#3a3a3a", "titleX": 969, "titleY": 58, "titleBaseline": "middle", "titleAlign": "center"}},
"y": {"field": "v", "type": "quantitative", "scale": {"domain": [0, 150000], "nice": false},
"axis": {"values": [0,10000,20000,30000,40000,50000,60000,70000,80000,90000,100000,110000,120000,130000,140000,150000], "format": "$,d", "grid": true, "gridColor": "#e6e6e6", "gridWidth": 2, "domain": false, "ticks": false, "labelFont": "DejaVu Sans", "labelFontSize": 20, "labelFontWeight": "bold", "labelColor": "#3d3d3d", "labelPadding": 16, "title": null}},
"color": {"field": "k", "type": "nominal", "scale": {"domain": ["aus", "glob"], "range": ["#ec3a8b", "#f26a2c"]},
"legend": {"orient": "none", "legendX": 331, "legendY": 888, "direction": "horizontal", "title": null, "padding": 0, "symbolType": "stroke", "symbolStrokeWidth": 8, "symbolSize": 1764, "labelFont": "DejaVu Serif", "labelFontSize": 20.3, "labelColor": "#3a3a3a", "labelLimit": 1000, "labelOffset": 16, "columnPadding": 27,
"labelExpr": "datum.label == 'aus' ? 'Australian Equities - S&P/ASX 300 Accumulation Index' : 'Global Equities - MSCI World Net Total Return Index'",
"encode": {"symbols": {"update": {"strokeCap": {"value": "round"}, "strokeWidth": {"value": 8}}}}}}
}
},
{
"data": {"name": "notes"},
"mark": {"type": "rect", "color": "#0d4a9f"},
"encoding": {
"x": {"field": "t1", "type": "quantitative", "scale": {"domain": [1993.906, 2024.215], "nice": false, "zero": false},
"axis": {"values": [1994,1995,1996,1997,1998,1999,2000,2001,2002,2003,2004,2005,2006,2007,2008,2009,2010,2011,2012,2013,2014,2015,2016,2017,2018,2019,2020,2021,2022,2023,2024], "format": "d", "grid": false, "ticks": false, "domainColor": "#4d4d4d", "domainWidth": 2, "labelFont": "DejaVu Sans", "labelFontSize": 18.5, "labelColor": "#444444", "labelPadding": 14, "labelOverlap": false, "labelFlush": false, "title": "Financial Year", "titleFont": "DejaVu Sans", "titleFontSize": 19, "titleFontWeight": "bold", "titleColor": "#3a3a3a", "titleX": 969, "titleY": 58, "titleBaseline": "middle", "titleAlign": "center"}},
"x2": {"field": "t2"},
"y": {"field": "v1", "type": "quantitative", "scale": {"domain": [0, 150000], "nice": false},
"axis": {"values": [0,10000,20000,30000,40000,50000,60000,70000,80000,90000,100000,110000,120000,130000,140000,150000], "format": "$,d", "grid": true, "gridColor": "#e6e6e6", "gridWidth": 2, "domain": false, "ticks": false, "labelFont": "DejaVu Sans", "labelFontSize": 20, "labelFontWeight": "bold", "labelColor": "#3d3d3d", "labelPadding": 16, "title": null}},
"y2": {"field": "v2"}
}
},
{
"data": {"name": "notes"},
"transform": [{"calculate": "(datum.t1 + datum.t2) / 2", "as": "tm"}],
"mark": {"type": "text", "color": "white", "font": "Roboto", "fontWeight": 500, "fontSize": 13, "lineHeight": 13, "lineBreak": "|", "align": "center", "baseline": "top", "dy": 6},
"encoding": {
"x": {"field": "tm", "type": "quantitative", "scale": {"domain": [1993.906, 2024.215], "nice": false, "zero": false},
"axis": {"values": [1994,1995,1996,1997,1998,1999,2000,2001,2002,2003,2004,2005,2006,2007,2008,2009,2010,2011,2012,2013,2014,2015,2016,2017,2018,2019,2020,2021,2022,2023,2024], "format": "d", "grid": false, "ticks": false, "domainColor": "#4d4d4d", "domainWidth": 2, "labelFont": "DejaVu Sans", "labelFontSize": 18.5, "labelColor": "#444444", "labelPadding": 14, "labelOverlap": false, "labelFlush": false, "title": "Financial Year", "titleFont": "DejaVu Sans", "titleFontSize": 19, "titleFontWeight": "bold", "titleColor": "#3a3a3a", "titleX": 969, "titleY": 58, "titleBaseline": "middle", "titleAlign": "center"}},
"y": {"field": "v1", "type": "quantitative", "scale": {"domain": [0, 150000], "nice": false},
"axis": {"values": [0,10000,20000,30000,40000,50000,60000,70000,80000,90000,100000,110000,120000,130000,140000,150000], "format": "$,d", "grid": true, "gridColor": "#e6e6e6", "gridWidth": 2, "domain": false, "ticks": false, "labelFont": "DejaVu Sans", "labelFontSize": 20, "labelFontWeight": "bold", "labelColor": "#3d3d3d", "labelPadding": 16, "title": null}},
"text": {"field": "lab", "type": "nominal"}
}
},
{
"data": {"name": "series"},
"transform": [
{"joinaggregate": [{"op": "max", "field": "t", "as": "tmax"}], "groupby": ["k"]},
{"filter": "datum.t === datum.tmax"},
{"lookup": "k", "from": {"data": {"name": "tags"}, "key": "k", "fields": ["lab"]}}
],
"encoding": {
"x": {"datum": 2025.0, "type": "quantitative", "scale": {"domain": [1993.906, 2024.215], "nice": false, "zero": false},
"axis": {"values": [1994,1995,1996,1997,1998,1999,2000,2001,2002,2003,2004,2005,2006,2007,2008,2009,2010,2011,2012,2013,2014,2015,2016,2017,2018,2019,2020,2021,2022,2023,2024], "format": "d", "grid": false, "ticks": false, "domainColor": "#4d4d4d", "domainWidth": 2, "labelFont": "DejaVu Sans", "labelFontSize": 18.5, "labelColor": "#444444", "labelPadding": 14, "labelOverlap": false, "labelFlush": false, "title": "Financial Year", "titleFont": "DejaVu Sans", "titleFontSize": 19, "titleFontWeight": "bold", "titleColor": "#3a3a3a", "titleX": 969, "titleY": 58, "titleBaseline": "middle", "titleAlign": "center"}},
"y": {"field": "v", "type": "quantitative", "scale": {"domain": [0, 150000], "nice": false},
"axis": {"values": [0,10000,20000,30000,40000,50000,60000,70000,80000,90000,100000,110000,120000,130000,140000,150000], "format": "$,d", "grid": true, "gridColor": "#e6e6e6", "gridWidth": 2, "domain": false, "ticks": false, "labelFont": "DejaVu Sans", "labelFontSize": 20, "labelFontWeight": "bold", "labelColor": "#3d3d3d", "labelPadding": 16, "title": null}}
},
"layer": [
{
"mark": {"type": "point", "filled": true, "opacity": 1, "strokeWidth": 0, "size": 11881, "shape": "M-0.872,-0.339L0.872,-0.339Q1,-0.339 1,-0.211L1,0.211Q1,0.339 0.872,0.339L-0.872,0.339Q-1,0.339 -1,0.211L-1,-0.211Q-1,-0.339 -0.872,-0.339Z"},
"encoding": {
"color": {"field": "k", "type": "nominal", "scale": {"domain": ["aus", "glob", "fixed", "cash", "cpi"], "range": ["#ec3a8b", "#f26a2c", "#3fae49", "#8753a2", "#97989b"]}, "legend": null}
}
},
{
"transform": [{"filter": "indexof(datum.lab, '|') >= 0"}],
"mark": {"type": "text", "color": "white", "font": "Open Sans", "fontWeight": 600, "fontSize": 14, "lineHeight": 16, "lineBreak": "|", "align": "center", "baseline": "middle", "dy": -8},
"encoding": {"text": {"field": "lab", "type": "nominal"}}
},
{
"transform": [{"filter": "indexof(datum.lab, '|') < 0"}],
"mark": {"type": "text", "color": "white", "font": "Open Sans", "fontWeight": 600, "fontSize": 14, "align": "center", "baseline": "middle"},
"encoding": {"text": {"field": "lab", "type": "nominal"}}
}
]
}
],
"resolve": {"scale": {"color": "independent"}}
}
